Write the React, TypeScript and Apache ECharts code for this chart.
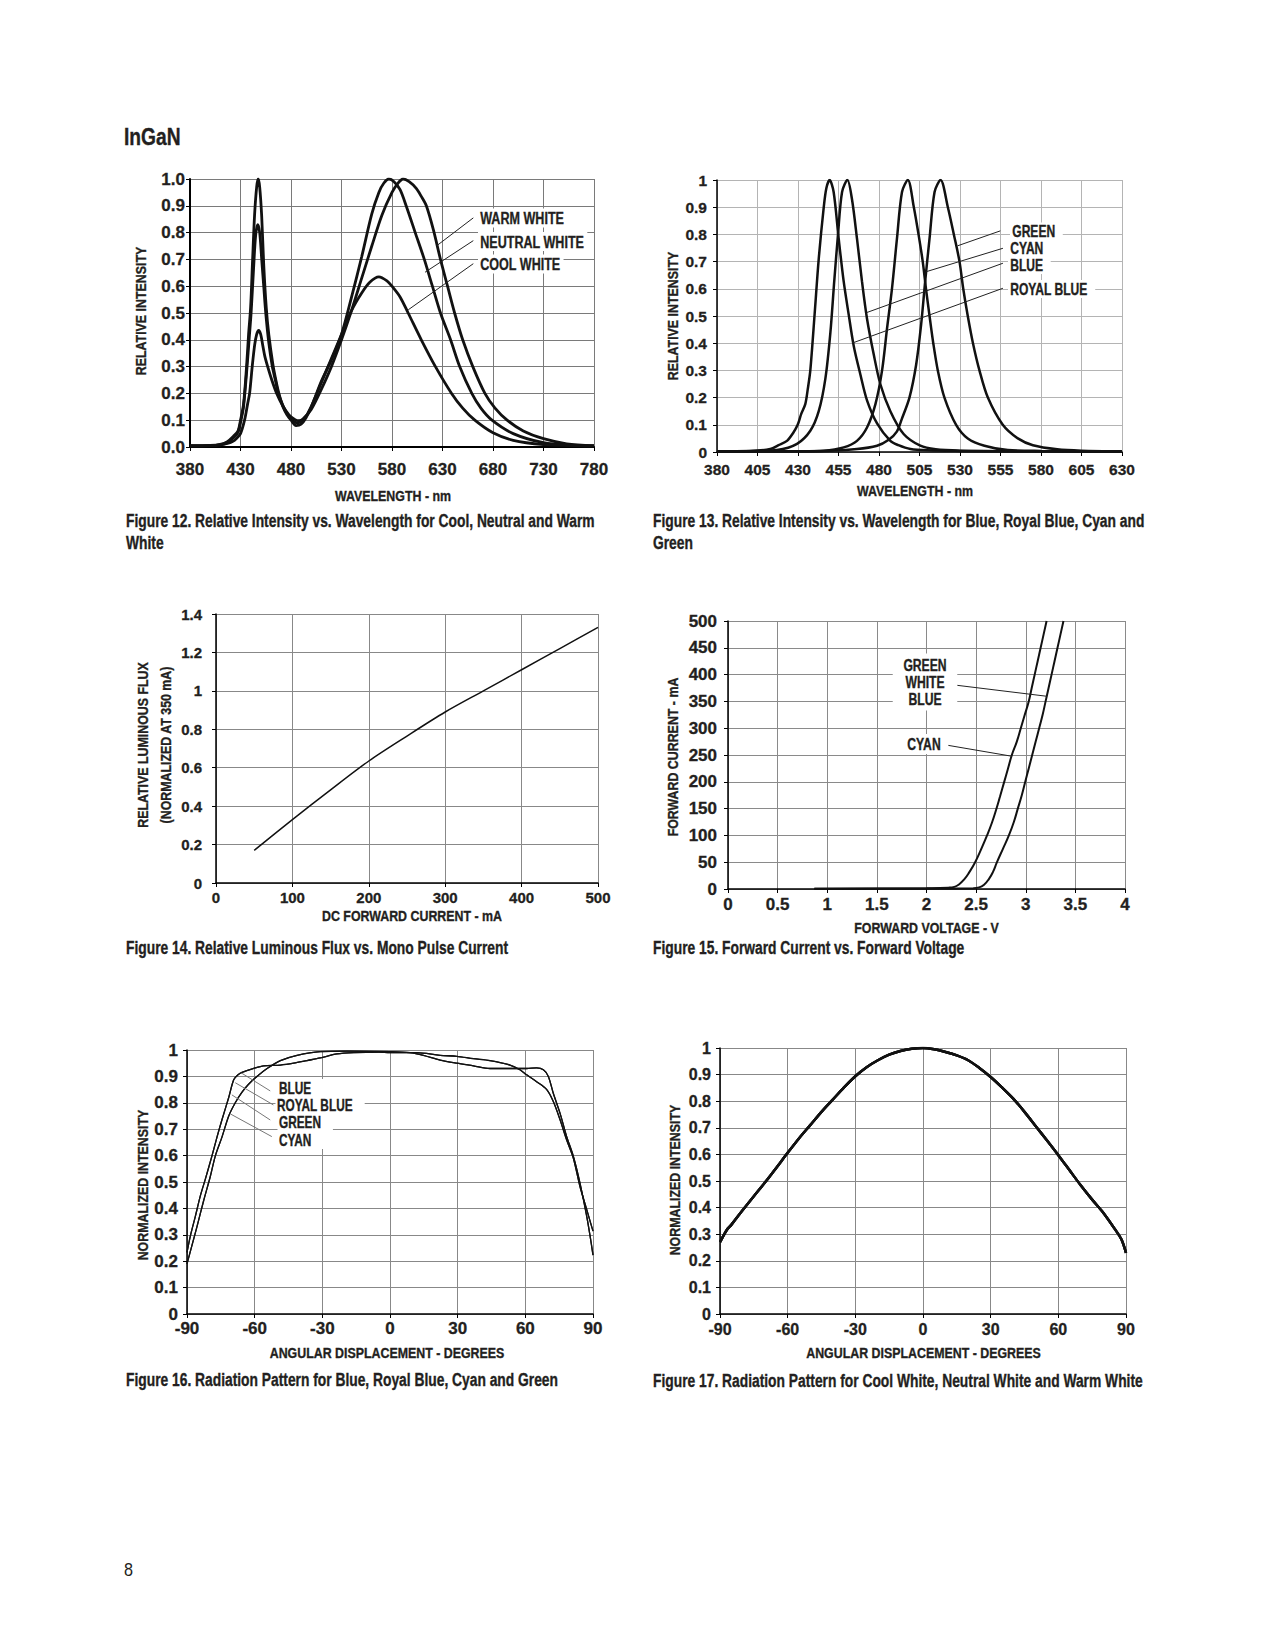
import React, { useEffect, useRef } from "react";
import * as echarts from "echarts";

type Pt = [number, number];

// ---------- Figure 12 : Relative intensity vs wavelength (white LEDs) ----------
const fig12CoolWhite: Pt[] = [
  [380, 0.005], [400, 0.006], [410, 0.01], [417, 0.02], [423, 0.04], [427.6, 0.06], [430, 0.1], [433, 0.16],
  [436, 0.3], [438, 0.42], [440, 0.52], [442, 0.7], [444, 0.87], [446, 0.97], [447.5, 1.0], [449, 0.97],
  [451, 0.86], [453, 0.68], [455.5, 0.52], [458, 0.42], [462, 0.31], [465, 0.25], [468, 0.2], [472, 0.15],
  [476, 0.12], [480, 0.1], [485, 0.08], [490, 0.085], [495, 0.11], [500, 0.15], [510, 0.24], [520, 0.33],
  [530, 0.42], [540, 0.51], [550, 0.575], [558, 0.615], [567, 0.635], [575, 0.62], [580, 0.6], [588, 0.56],
  [596, 0.5], [609, 0.4], [623, 0.3], [639, 0.2], [650, 0.145], [662, 0.1], [680, 0.053], [700, 0.025],
  [730, 0.009], [760, 0.005], [780, 0.003],
];
const fig12NeutralWhite: Pt[] = [
  [380, 0.004], [400, 0.005], [410, 0.008], [417, 0.016], [423, 0.035], [427.6, 0.055], [430.5, 0.1], [433, 0.15],
  [436.5, 0.3], [438.5, 0.4], [440.5, 0.5], [443, 0.67], [445, 0.79], [447, 0.83], [449, 0.8], [451, 0.7],
  [453, 0.6], [455, 0.5], [458, 0.39], [461.5, 0.3], [464.5, 0.25], [467.5, 0.2], [472, 0.155], [476, 0.125],
  [481, 0.1], [487, 0.09], [492, 0.1], [500, 0.15], [510, 0.245], [520, 0.325], [530, 0.42], [540, 0.56],
  [550, 0.71], [560, 0.87], [567, 0.95], [572, 0.985], [577, 1.0], [582, 0.99], [588, 0.96], [594, 0.9],
  [603, 0.8], [612, 0.7], [620, 0.6], [628, 0.5], [638, 0.4], [647, 0.3], [659, 0.2], [668, 0.145],
  [679, 0.1], [700, 0.05], [730, 0.016], [760, 0.006], [780, 0.004],
];
const fig12WarmWhite: Pt[] = [
  [380, 0.004], [400, 0.005], [410, 0.008], [418, 0.014], [422, 0.02], [426, 0.032], [430, 0.05], [434, 0.1],
  [437, 0.16], [439, 0.2], [441.6, 0.3], [444, 0.38], [446, 0.42], [448, 0.435], [450, 0.42], [452, 0.38],
  [454, 0.34], [456.9, 0.3], [461, 0.25], [465.8, 0.2], [472.4, 0.15], [478, 0.12], [484, 0.102], [488, 0.098],
  [492, 0.105], [500, 0.14], [510, 0.215], [520, 0.3], [530, 0.4], [540, 0.51], [550, 0.63], [560, 0.75],
  [570, 0.865], [580, 0.95], [586, 0.985], [591, 1.0], [597, 0.99], [604, 0.965], [609, 0.935], [614, 0.9],
  [621, 0.81], [628, 0.7], [635, 0.6], [642, 0.5], [650, 0.4], [660, 0.3], [672, 0.2], [682, 0.145],
  [694, 0.1], [710, 0.06], [730, 0.031], [753, 0.012], [780, 0.005],
];
const fig12Leaders: [Pt, Pt][] = [
  [[660.5, 0.855], [624.3, 0.751]],
  [[660.5, 0.77], [612.7, 0.652]],
  [[660.5, 0.684], [596.1, 0.512]],
];
const fig12Labels = ["WARM WHITE", "NEUTRAL WHITE", "COOL WHITE"];

// ---------- Figure 13 : Relative intensity vs wavelength (colours) ----------
const fig13RoyalBlue: Pt[] = [
  [380, 0.003], [400, 0.004], [412.9, 0.011], [418, 0.025], [423.2, 0.041], [427, 0.07], [429.8, 0.1],
  [432, 0.14], [434.5, 0.176], [436, 0.23], [437.6, 0.3], [440.3, 0.51], [442.8, 0.71], [445.9, 0.9],
  [447.5, 0.97], [449.5, 1.0], [452, 0.956], [455.1, 0.785], [458.2, 0.627], [461.3, 0.505], [464.4, 0.39],
  [468.5, 0.285], [472.6, 0.19], [478.8, 0.105], [487, 0.041], [492, 0.025], [499.4, 0.011], [510, 0.006],
  [530, 0.004], [560, 0.003], [630, 0.002],
];
const fig13Blue: Pt[] = [
  [380, 0.003], [405, 0.004], [417, 0.007], [429.4, 0.03], [437.6, 0.078], [442.8, 0.15], [446.9, 0.27],
  [450, 0.44], [452.4, 0.63], [454.7, 0.8], [457.2, 0.956], [460.5, 1.0], [463.3, 0.93], [466.4, 0.785],
  [469.5, 0.627], [472.6, 0.49], [476.7, 0.36], [480.8, 0.25], [487, 0.15], [495.2, 0.066], [505.5, 0.023],
  [515, 0.01], [530, 0.005], [560, 0.003], [630, 0.002],
];
const fig13Cyan: Pt[] = [
  [380, 0.002], [430, 0.003], [445.9, 0.005], [458.2, 0.017], [466.4, 0.041], [472.6, 0.09], [477.8, 0.176],
  [481.9, 0.3], [485, 0.456], [488, 0.6], [491.1, 0.785], [494.2, 0.956], [497.8, 1.0], [501.5, 0.9],
  [504.4, 0.8], [507, 0.7], [509, 0.6], [511.2, 0.5], [513.5, 0.4], [516.3, 0.3], [520.4, 0.2], [527.6, 0.1],
  [534.8, 0.05], [545.1, 0.023], [559.5, 0.007], [580, 0.004], [630, 0.002],
];
const fig13Green: Pt[] = [
  [380, 0.002], [440, 0.003], [466.4, 0.011], [478.8, 0.023], [486, 0.045], [491, 0.075], [494, 0.12],
  [498.8, 0.2], [502.9, 0.32], [506, 0.468], [508.5, 0.627], [511.2, 0.785], [514.3, 0.956], [518, 1.0],
  [522.5, 0.9], [526.2, 0.8], [529.7, 0.7], [532, 0.6], [534.8, 0.5], [538, 0.4], [542, 0.3], [547.2, 0.2],
  [556.4, 0.1], [565.7, 0.05], [575, 0.025], [590, 0.01], [605, 0.005], [630, 0.003],
];
const fig13Leaders: [Pt, Pt][] = [
  [[554.9, 0.813], [528.5, 0.758]],
  [[556.5, 0.749], [509.2, 0.663]],
  [[556.5, 0.694], [472.6, 0.513]],
  [[556.5, 0.602], [463.3, 0.4]],
];
const fig13Labels = ["GREEN", "CYAN", "BLUE", "ROYAL BLUE"];

// ---------- Figure 14 : Relative luminous flux vs current ----------
const fig14Flux: Pt[] = [
  [50, 0.17], [100, 0.33], [150, 0.485], [200, 0.635], [250, 0.765], [300, 0.89], [350, 1.0], [400, 1.11],
  [450, 1.22], [500, 1.33],
];

// ---------- Figure 15 : Forward current vs forward voltage ----------
const fig15Cyan: Pt[] = [
  [0.87, 0.5], [1.5, 1], [2.0, 1.5], [2.22, 2.5], [2.28, 4], [2.33, 9], [2.38, 18], [2.43, 31], [2.49, 50],
  [2.55, 74], [2.61, 100], [2.66, 124], [2.7, 147], [2.74, 172], [2.78, 198], [2.82, 224], [2.86, 250],
  [2.91, 275], [2.95, 300], [2.99, 325], [3.03, 350], [3.06, 375], [3.09, 400], [3.12, 425], [3.15, 450],
  [3.18, 475], [3.21, 500],
];
const fig15GreenWhiteBlue: Pt[] = [
  [0.87, 0.5], [2.0, 1], [2.47, 1.5], [2.53, 3], [2.58, 8], [2.63, 19], [2.67, 32], [2.71, 50], [2.77, 75],
  [2.83, 100], [2.88, 125], [2.92, 150], [2.96, 175], [2.995, 200], [3.03, 225], [3.065, 250], [3.1, 275],
  [3.135, 300], [3.17, 325], [3.2, 350], [3.23, 375], [3.26, 400], [3.29, 425], [3.32, 450], [3.35, 475],
  [3.38, 500],
];
const fig15Leaders: [Pt, Pt][] = [
  [[2.309, 380], [3.215, 359.5]],
  [[2.218, 268], [2.862, 247.6]],
];

// ---------- Figure 16 : Radiation pattern (colours) ----------
const fig16BlueRoyalBlue: Pt[] = [
  [-90, 0.233], [-88.5, 0.296], [-86.3, 0.37], [-84, 0.45], [-81.9, 0.51], [-78.9, 0.6], [-76.7, 0.67],
  [-74.5, 0.736], [-71.5, 0.82], [-69.3, 0.887], [-67.5, 0.905], [-65.6, 0.915], [-60.4, 0.93], [-56, 0.94],
  [-48.6, 0.943], [-42.7, 0.95], [-36.8, 0.96], [-30.9, 0.97], [-23.5, 0.985], [-16.1, 0.99], [-5, 0.992],
  [0, 0.99], [11.8, 0.99], [22.2, 0.98], [29.6, 0.976], [37, 0.967], [44.3, 0.96], [53.2, 0.943],
  [57.6, 0.925], [60.6, 0.906], [65, 0.88], [69.5, 0.85], [72.4, 0.805], [75.4, 0.736], [78.3, 0.66],
  [81.3, 0.59], [84.2, 0.484], [87.2, 0.396], [90, 0.314],
];
const fig16GreenCyan: Pt[] = [
  [-90, 0.19], [-87.8, 0.26], [-85.6, 0.33], [-82.6, 0.43], [-79.7, 0.52], [-77.4, 0.6], [-74.5, 0.67],
  [-71.5, 0.75], [-68.6, 0.8], [-65.6, 0.84], [-62.7, 0.87], [-59, 0.9], [-54.5, 0.93], [-48.6, 0.96],
  [-41.2, 0.98], [-30.9, 0.994], [-19, 0.996], [0, 0.994], [8.9, 0.99], [14.8, 0.98], [22.2, 0.962],
  [29.6, 0.95], [37, 0.94], [44.3, 0.93], [54.7, 0.93], [60.6, 0.93], [65, 0.932], [68, 0.925], [70.2, 0.9],
  [72.4, 0.836], [75.4, 0.76], [78.3, 0.673], [81.3, 0.597], [84.2, 0.497], [87.2, 0.371], [88.7, 0.296],
  [90, 0.223],
];
const fig16Leaders: [Pt, Pt][] = [
  [[-53.1, 0.845], [-65.7, 0.912]],
  [[-51.7, 0.792], [-68.6, 0.876]],
  [[-53.1, 0.735], [-70.1, 0.83]],
  [[-52.4, 0.672], [-70.8, 0.758]],
];
const fig16Labels = ["BLUE", "ROYAL BLUE", "GREEN", "CYAN"];

// ---------- Figure 17 : Radiation pattern (white) ----------
const fig17White: Pt[] = [
  [-90, 0.27], [-87, 0.316], [-85, 0.335], [-80, 0.39], [-75, 0.443], [-70, 0.495], [-65, 0.55], [-60, 0.606],
  [-55, 0.66], [-50, 0.71], [-45, 0.76], [-40, 0.806], [-35, 0.852], [-30, 0.894], [-25, 0.928], [-20, 0.954],
  [-15, 0.975], [-10, 0.989], [-5, 0.997], [0, 1.0], [5, 0.995], [10, 0.985], [15, 0.972], [20, 0.954],
  [25, 0.925], [30, 0.891], [35, 0.852], [40, 0.81], [45, 0.76], [50, 0.706], [55, 0.652], [60, 0.597],
  [65, 0.54], [70, 0.483], [75, 0.43], [80, 0.38], [85, 0.32], [88, 0.28], [90, 0.23],
];

// ---------- layout / style ----------
const WIDE = "'Liberation Sans', Arial, sans-serif";
const INK = "#231f20";
const NARROW_SCALE = 0.8;

const grids = [
  { left: 190, top: 179, width: 404, height: 268 },
  { left: 717, top: 180, width: 405, height: 272 },
  { left: 216, top: 614, width: 382, height: 269 },
  { left: 728, top: 621, width: 397, height: 268 },
  { left: 187, top: 1050, width: 406, height: 264 },
  { left: 720, top: 1048, width: 406, height: 266 },
];

type AxisSpec = { min: number; max: number; interval: number; margin: number; fontSize: number; fmt?: (v: number) => string };

const axis = (gridIndex: number, s: AxisSpec, gridColor: string, axisWidth: number) => ({
  type: "value",
  gridIndex,
  min: s.min,
  max: s.max,
  interval: s.interval,
  axisLine: { show: true, onZero: false, lineStyle: { color: "#000", width: axisWidth } },
  axisTick: { show: true, inside: false, length: 4, lineStyle: { color: "#000", width: 1 } },
  axisLabel: {
    margin: s.margin,
    color: INK,
    fontFamily: WIDE,
    fontWeight: "bold",
    fontSize: s.fontSize,
    textBorderColor: INK,
    textBorderWidth: 0.3,
    formatter: s.fmt,
  },
  splitLine: { show: true, lineStyle: { color: gridColor, width: 1 } },
});

const xSpecs: AxisSpec[] = [
  { min: 380, max: 780, interval: 50, margin: 14, fontSize: 17 },
  { min: 380, max: 630, interval: 25, margin: 9, fontSize: 15.5 },
  { min: 0, max: 500, interval: 100, margin: 7, fontSize: 15 },
  { min: 0, max: 4, interval: 0.5, margin: 7, fontSize: 17 },
  { min: -90, max: 90, interval: 30, margin: 6, fontSize: 17 },
  { min: -90, max: 90, interval: 30, margin: 7, fontSize: 16 },
];
const ySpecs: AxisSpec[] = [
  { min: 0, max: 1, interval: 0.1, margin: 5, fontSize: 17, fmt: (v: number) => v.toFixed(1) },
  { min: 0, max: 1, interval: 0.1, margin: 10, fontSize: 15.5 },
  { min: 0, max: 1.4, interval: 0.2, margin: 14, fontSize: 15 },
  { min: 0, max: 500, interval: 50, margin: 11, fontSize: 17 },
  { min: 0, max: 1, interval: 0.1, margin: 9, fontSize: 17 },
  { min: 0, max: 1, interval: 0.1, margin: 9, fontSize: 16 },
];
const gridColors = ["#7a7a7a", "#b4b4b4", "#888888", "#8a8a8a", "#888888", "#888888"];
const axisWidths = [2, 1.5, 1.5, 1.5, 1.5, 1.5];

const leaderLine = (pairs: [Pt, Pt][], color: string) => ({
  silent: true,
  symbol: ["none", "none"],
  animation: false,
  label: { show: false },
  lineStyle: { color, width: 1, type: "solid" },
  emphasis: { disabled: true },
  data: pairs.map(([a, b]) => [{ coord: a }, { coord: b }]),
});

const curve = (idx: number, name: string, data: Pt[], width: number, extra: any = {}) => ({
  type: "line",
  name,
  xAxisIndex: idx,
  yAxisIndex: idx,
  data,
  showSymbol: false,
  symbol: "none",
  smooth: 0.3,
  silent: true,
  lineStyle: { color: "#111", width },
  z: 3,
  ...extra,
});

const text = (t: string, x: number, y: number, o: any = {}) => ({
  type: "text",
  x,
  y,
  z: 100,
  rotation: o.rotation || 0,
  scaleX: o.scaleX ?? NARROW_SCALE,
  scaleY: 1,
  style: {
    text: t,
    fill: INK,
    stroke: o.weight === "normal" ? undefined : INK,
    lineWidth: o.weight === "normal" ? 0 : 0.35,
    fontFamily: o.family || WIDE,
    fontWeight: o.weight || "bold",
    fontSize: o.size || 15.5,
    align: o.align || "left",
    textAlign: o.align || "left",
    verticalAlign: "middle",
    textVerticalAlign: "middle",
    lineHeight: o.lineHeight,
    backgroundColor: o.bg,
    padding: o.padding,
  },
});

const ROT = Math.PI / 2;
const CAP = { size: 17.5, scaleX: 0.79 };

const graphics = [
  text("InGaN", 124, 137, { size: 24, scaleX: 0.8 }),
  // Figure 12
  text("RELATIVE INTENSITY", 140, 311, { rotation: ROT, align: "center" }),
  text("WAVELENGTH - nm", 393, 495, { align: "center" }),
  ...fig12Labels.map((l, i) => text(l, 478, [218, 241.5, 264][i], { size: 17, scaleX: 0.74, bg: "#fff", padding: [1, 4, 1, 3] })),
  text("Figure 12. Relative Intensity vs. Wavelength for Cool, Neutral and Warm\nWhite", 126, 532, { ...CAP, lineHeight: 21.5 }),
  // Figure 13
  text("RELATIVE INTENSITY", 672.5, 316, { rotation: ROT, align: "center" }),
  text("WAVELENGTH - nm", 915, 490.5, { align: "center" }),
  ...fig13Labels.map((l, i) => text(l, [1010, 1008, 1008, 1008][i], [231.5, 248.5, 265, 289][i], { size: 16, scaleX: 0.755, bg: "#fff", padding: [1, 10, 1, 3] })),
  text("Figure 13. Relative Intensity vs. Wavelength for Blue, Royal Blue, Cyan and\nGreen", 653, 532, { ...CAP, lineHeight: 21.5 }),
  // Figure 14
  text("RELATIVE LUMINOUS FLUX", 142, 745, { rotation: ROT, align: "center" }),
  text("(NORMALIZED AT 350 mA)", 165, 745, { rotation: ROT, align: "center" }),
  text("DC FORWARD CURRENT - mA", 412, 915, { align: "center" }),
  text("Figure 14. Relative Luminous Flux vs. Mono Pulse Current", 126, 948, CAP),
  // Figure 15
  text("FORWARD CURRENT - mA", 672.5, 757, { rotation: ROT, align: "center" }),
  text("FORWARD VOLTAGE - V", 926.5, 927, { align: "center" }),
  text("GREEN\nWHITE\nBLUE", 925, 682, { size: 16, scaleX: 0.76, align: "center", lineHeight: 17, bg: "#fff", padding: [3, 14, 3, 14] }),
  text("CYAN", 924, 744, { size: 16, scaleX: 0.76, align: "center", bg: "#fff", padding: [2, 10, 2, 10] }),
  text("Figure 15. Forward Current vs. Forward Voltage", 653, 948, CAP),
  // Figure 16
  text("NORMALIZED INTENSITY", 142.5, 1185, { rotation: ROT, align: "center" }),
  text("ANGULAR DISPLACEMENT - DEGREES", 387, 1352, { align: "center" }),
  ...fig16Labels.map((l, i) => text(l, [277.5, 275.5, 277.5, 277.5][i], [1088, 1105.5, 1122.5, 1140][i], { size: 16, scaleX: 0.74, bg: "#fff", padding: [1, 16, 1, 2] })),
  text("Figure 16. Radiation Pattern for Blue, Royal Blue, Cyan and Green", 126, 1380, CAP),
  // Figure 17
  text("NORMALIZED INTENSITY", 674, 1180, { rotation: ROT, align: "center" }),
  text("ANGULAR DISPLACEMENT - DEGREES", 923.5, 1352, { align: "center" }),
  text("Figure 17. Radiation Pattern for Cool White, Neutral White and Warm White", 653, 1381, CAP),
  // page number
  text("8", 124, 1570, { size: 18, weight: "normal", scaleX: 0.9 }),
];

const option = {
  animation: false,
  backgroundColor: "#fff",
  grid: grids.map((g) => ({ ...g, containLabel: false })),
  xAxis: xSpecs.map((s, i) => axis(i, s, gridColors[i], axisWidths[i])),
  yAxis: ySpecs.map((s, i) => axis(i, s, gridColors[i], axisWidths[i])),
  series: [
    curve(0, "Warm White", fig12WarmWhite, 2.8, { markLine: leaderLine(fig12Leaders, "#222") }),
    curve(0, "Neutral White", fig12NeutralWhite, 2.8),
    curve(0, "Cool White", fig12CoolWhite, 2.8),
    curve(1, "Royal Blue", fig13RoyalBlue, 2.5, { markLine: leaderLine(fig13Leaders, "#222") }),
    curve(1, "Blue", fig13Blue, 2.5),
    curve(1, "Cyan", fig13Cyan, 2.5),
    curve(1, "Green", fig13Green, 2.5),
    curve(2, "Relative Luminous Flux", fig14Flux, 1.5),
    curve(3, "Green / White / Blue", fig15GreenWhiteBlue, 2, { smooth: 0.5, markLine: leaderLine(fig15Leaders, "#222") }),
    curve(3, "Cyan", fig15Cyan, 2, { smooth: 0.5 }),
    curve(4, "Blue", fig16BlueRoyalBlue, 1.3, { markLine: leaderLine(fig16Leaders, "#777") }),
    curve(4, "Royal Blue", fig16BlueRoyalBlue, 1.3),
    curve(4, "Green", fig16GreenCyan, 1.3),
    curve(4, "Cyan", fig16GreenCyan, 1.3),
    curve(5, "Cool White", fig17White, 2.5),
    curve(5, "Neutral White", fig17White, 2.5),
    curve(5, "Warm White", fig17White, 2.5),
  ],
  graphic: { elements: graphics },
};

export default function App() {
  const ref = useRef<HTMLDivElement>(null);
  useEffect(() => {
    if (!ref.current) return;
    const chart = echarts.init(ref.current, null, { renderer: "svg" });
    chart.setOption(option as any);
    return () => chart.dispose();
  }, []);
  return (
    <div
      ref={ref}
      style={{ position: "absolute", left: 0, top: 0, width: 1275, height: 1650, background: "#fff" }}
    />
  );
}
